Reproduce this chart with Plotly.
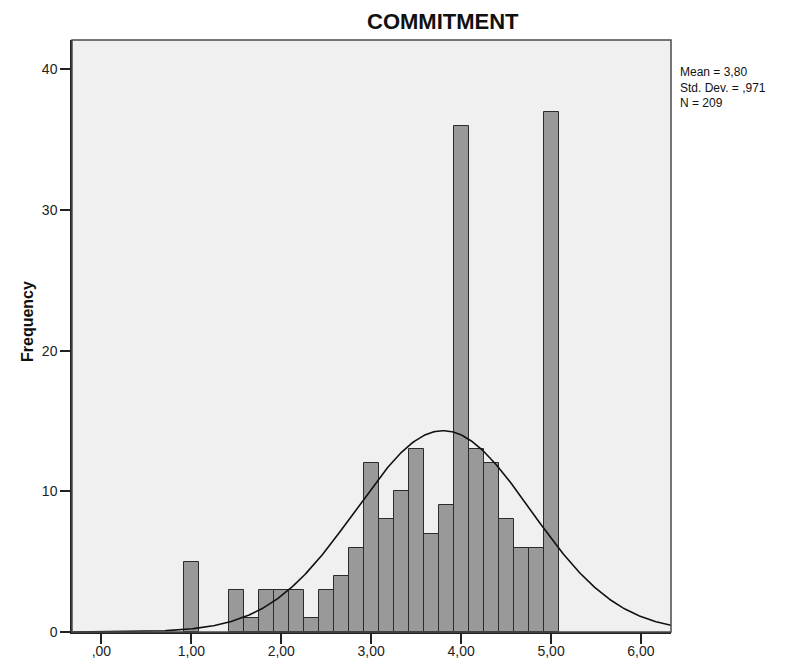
import numpy as np
import plotly.graph_objects as go

# ---- data ----
bin_centers = [1.0, 1.5, 1.6667, 1.8333, 2.0, 2.1667, 2.3333, 2.5, 2.6667, 2.8333,
               3.0, 3.1667, 3.3333, 3.5, 3.6667, 3.8333, 4.0, 4.1667, 4.3333, 4.5,
               4.6667, 4.8333, 5.0]
frequencies = [5, 3, 1, 3, 3, 3, 1, 3, 4, 6,
               12, 8, 10, 13, 7, 9, 36, 13, 12, 8,
               6, 6, 37]
bin_width = 1 / 6
mean_value = 3.80
std_dev = 0.971
n_total = 209
x_tick_vals = [0, 1, 2, 3, 4, 5, 6]
x_tick_text = [",00", "1,00", "2,00", "3,00", "4,00", "5,00", "6,00"]
y_tick_vals = [0, 10, 20, 30, 40]
y_tick_text = ["0", "10", "20", "30", "40"]
stats_lines = ["Mean = 3,80", "Std. Dev. = ,971", "N = 209"]

x_range = [-0.327, 6.334]
y_range = [0, 42.09]

FONT = "Arial, Liberation Sans, Helvetica, sans-serif"

fig = go.Figure()

fig.add_trace(go.Bar(
    x=bin_centers, y=frequencies, width=bin_width,
    marker=dict(color="#999999", line=dict(color="#2b2b2b", width=1)),
    hoverinfo="x+y", showlegend=False,
))

# fitted normal curve (from stated mean, std. dev., N and bin width)
xc = np.linspace(x_range[0], x_range[1], 400)
yc = n_total * bin_width / (std_dev * np.sqrt(2 * np.pi)) * np.exp(-0.5 * ((xc - mean_value) / std_dev) ** 2)
fig.add_trace(go.Scatter(x=xc, y=yc, mode="lines",
                         line=dict(color="#111111", width=1.6),
                         hoverinfo="skip", showlegend=False))

# plot frame
fig.add_shape(type="rect", xref="paper", yref="paper", x0=0, y0=0, x1=1, y1=1,
              line=dict(color="#4a4a4a", width=1.5), layer="above")

fig.update_layout(
    width=792, height=660,
    margin=dict(l=72, r=121, t=40, b=28, autoexpand=False),
    paper_bgcolor="white", plot_bgcolor="#f0f0f0",
    bargap=0,
    font=dict(family=FONT, color="#222222", size=14),
    xaxis=dict(range=x_range, tickvals=x_tick_vals, ticktext=x_tick_text,
               showgrid=False, zeroline=False, showline=True, linecolor="#222222",
               linewidth=1.5, ticks="outside", ticklen=10, tickwidth=1.5,
               tickcolor="#222222", tickfont=dict(size=14, family=FONT, color="#222222"),
               ticklabelstandoff=-5,
               automargin=False, fixedrange=True),
    yaxis=dict(range=y_range, tickvals=y_tick_vals, ticktext=y_tick_text,
               showgrid=False, zeroline=False, showline=True, linecolor="#222222",
               linewidth=1.5, ticks="outside", ticklen=10, tickwidth=1.5,
               tickcolor="#222222", tickfont=dict(size=14, family=FONT, color="#222222"),
               automargin=False, fixedrange=True),
)

plot_w = 792 - 72 - 121
plot_h = 660 - 40 - 28

def px_to_paper_x(px):
    return (px - 72) / plot_w

def px_to_paper_y(py):
    return (660 - 28 - py) / plot_h

# title
fig.add_annotation(text="<b>COMMITMENT</b>", xref="paper", yref="paper",
                   x=px_to_paper_x(443), y=px_to_paper_y(22), xanchor="center", yanchor="middle",
                   showarrow=False, font=dict(size=22, family=FONT, color="#111111"))

# y axis title
fig.add_annotation(text="<b>Frequency</b>", xref="paper", yref="paper",
                   x=px_to_paper_x(27), y=px_to_paper_y(322), xanchor="center", yanchor="middle",
                   textangle=-90, showarrow=False, font=dict(size=16, family=FONT, color="#111111"))

# stats box text
fig.add_annotation(text="<br>".join(stats_lines), xref="paper", yref="paper",
                   x=px_to_paper_x(679), y=px_to_paper_y(87),
                   xanchor="left", yanchor="middle", align="left", showarrow=False, borderpad=0,
                   font=dict(size=12, family=FONT, color="#111111"))

fig.write_html("out.html")
